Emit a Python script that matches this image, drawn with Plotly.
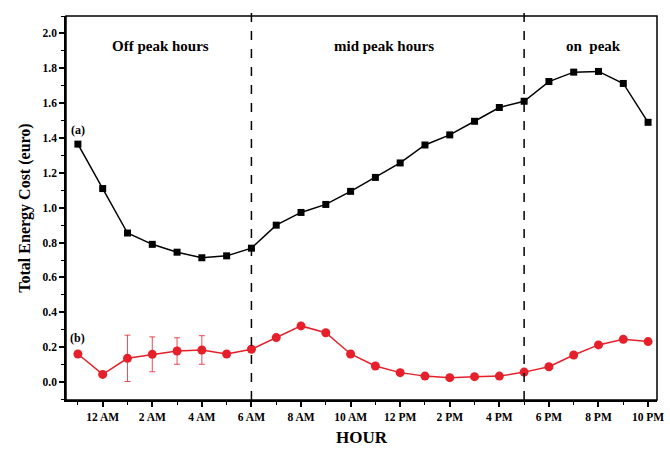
import plotly.graph_objects as go

hours = ["11 PM", "12 AM", "1 AM", "2 AM", "3 AM", "4 AM", "5 AM", "6 AM", "7 AM", "8 AM",
         "9 AM", "10 AM", "11 AM", "12 PM", "1 PM", "2 PM", "3 PM", "4 PM", "5 PM", "6 PM",
         "7 PM", "8 PM", "9 PM", "10 PM"]
cost_a = [1.365, 1.11, 0.855, 0.79, 0.745, 0.713, 0.724, 0.768, 0.90, 0.973, 1.019, 1.094,
          1.174, 1.257, 1.36, 1.418, 1.496, 1.575, 1.611, 1.724, 1.778, 1.782, 1.713, 1.49]
cost_b = [0.161, 0.044, 0.136, 0.159, 0.178, 0.184, 0.161, 0.188, 0.255, 0.322, 0.283, 0.161,
          0.092, 0.054, 0.034, 0.025, 0.031, 0.034, 0.057, 0.088, 0.155, 0.213, 0.245, 0.232]
err_b = [0, 0, 0.133, 0.10, 0.076, 0.082, 0, 0, 0, 0, 0, 0,
         0, 0, 0, 0, 0, 0, 0, 0, 0, 0, 0, 0]
period_bounds = ["6 AM", "5 PM"]
period_labels = ["Off peak hours", "mid peak hours", "on  peak"]
period_label_x = [3.35, 12.35, 20.8]

idx = list(range(len(hours)))
font_family = "Liberation Serif, Times New Roman, serif"

fig = go.Figure()
fig.add_trace(go.Scatter(
    x=idx, y=cost_a, mode="lines+markers",
    line=dict(color="black", width=1.5),
    marker=dict(symbol="square", size=7, color="black"),
    name="(a)", showlegend=False))
fig.add_trace(go.Scatter(
    x=idx, y=cost_b, mode="lines+markers",
    line=dict(color="#e5202a", width=1.5),
    marker=dict(symbol="circle", size=9, color="#e5202a"),
    error_y=dict(type="data", array=err_b, visible=True, color="#e5202a",
                 thickness=0.8, width=3),
    name="(b)", showlegend=False))

for h in period_bounds:
    xi = hours.index(h)
    fig.add_shape(type="line", xref="x", yref="paper", x0=xi, x1=xi, y0=0, y1=1.01,
                  line=dict(color="black", width=1.5, dash="dash"))

fig.add_shape(type="rect", xref="paper", yref="paper", x0=0, x1=1, y0=0, y1=1,
              line=dict(color="black", width=1.5), fillcolor="rgba(0,0,0,0)", layer="above")

for lab, xl in zip(period_labels, period_label_x):
    fig.add_annotation(x=xl, y=1.93, xref="x", yref="y", text="<b>%s</b>" % lab,
                       showarrow=False, font=dict(size=15, color="black", family=font_family))

fig.add_annotation(x=0, y=1.445, xref="x", yref="y", text="<b>(a)</b>", showarrow=False,
                   font=dict(size=12, color="black", family=font_family))
fig.add_annotation(x=0, y=0.25, xref="x", yref="y", text="<b>(b)</b>", showarrow=False,
                   font=dict(size=12, color="black", family=font_family))

fig.update_layout(
    width=670, height=453,
    margin=dict(l=66, r=13, t=16, b=53),
    paper_bgcolor="white", plot_bgcolor="white",
    font=dict(family=font_family, color="black", size=12),
    xaxis=dict(
        automargin=False,
        range=[-0.48, 23.36],
        tickmode="array",
        tickvals=[i for i in idx if i % 2 == 1],
        ticktext=["<b>%s</b>" % hours[i] for i in idx if i % 2 == 1],
        ticks="outside", ticklen=5, tickwidth=1.5, tickcolor="black",
        minor=dict(tickvals=[i for i in idx if i % 2 == 0], ticks="outside", ticklen=3,
                   tickwidth=1.2, tickcolor="black"),
        showline=True, linecolor="black", linewidth=1.5,
        showgrid=False, zeroline=False,
        tickfont=dict(size=11.5),
        title=dict(text="<b>HOUR</b>", font=dict(size=17), standoff=10),
    ),
    yaxis=dict(
        automargin=False,
        range=[-0.103, 2.1],
        tickmode="array",
        tickvals=[0, 0.2, 0.4, 0.6, 0.8, 1.0, 1.2, 1.4, 1.6, 1.8, 2.0],
        ticktext=["<b>%.1f</b>" % v for v in [0, 0.2, 0.4, 0.6, 0.8, 1.0, 1.2, 1.4, 1.6, 1.8, 2.0]],
        ticks="outside", ticklen=5, tickwidth=1.5, tickcolor="black",
        minor=dict(dtick=0.1, tick0=0, ticks="outside", ticklen=3, tickwidth=1.2,
                   tickcolor="black"),
        showline=True, linecolor="black", linewidth=1.5,
        showgrid=False, zeroline=False,
        tickfont=dict(size=11.5),
        title=dict(text="<b>Total Energy Cost (euro)</b>", font=dict(size=16), standoff=8),
    ),
)

fig.write_html("out.html",
               config={"displayModeBar": False},
               post_script="document.body.style.margin='0';document.body.style.overflow='hidden';")
